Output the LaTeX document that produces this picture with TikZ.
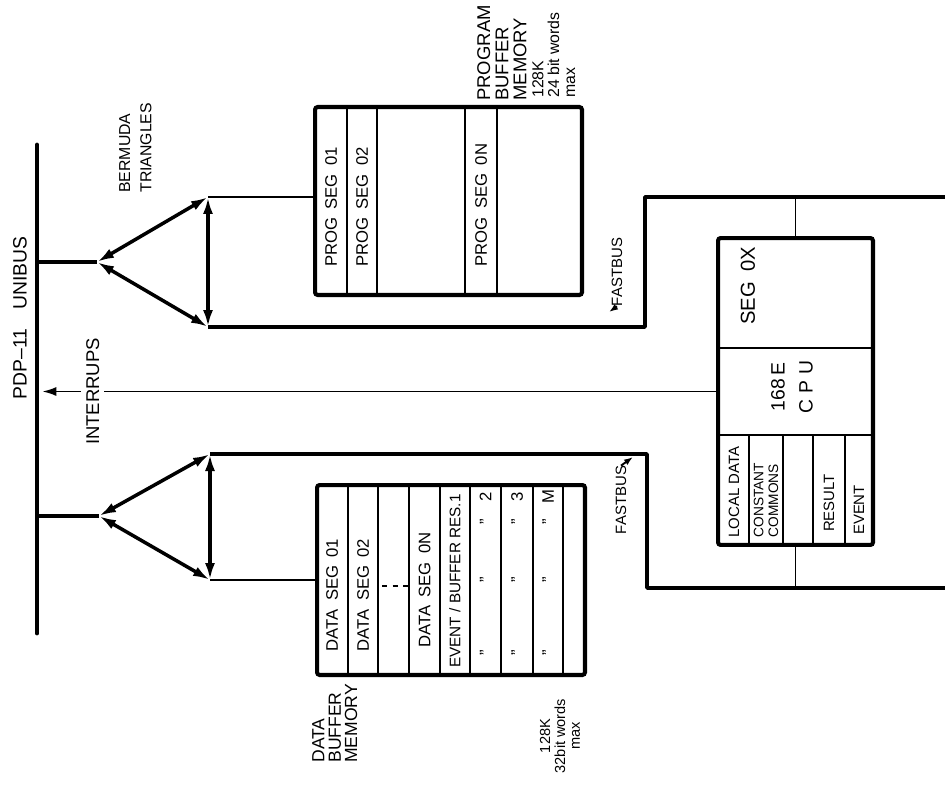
\documentclass[tikz,border=0pt]{standalone}
\usepackage{fontspec}
\setmainfont{Liberation Sans}
\usetikzlibrary{arrows.meta,calc}
\tikzset{
  bus/.style={line width=2.8pt,line cap=round},
  tri/.style={line width=2pt,{Latex[length=3.4mm,width=2mm]}-{Latex[length=3.4mm,width=2mm]}},
  fastbus/.style={line width=2pt,line join=round},
  link/.style={line width=1.1pt},
  membox/.style={draw,line width=2.3pt,rounded corners=1.5pt,inner sep=0pt},
  divider/.style={line width=1.4pt},
  vtext/.style={rotate=90,inner sep=1pt,font=\fontsize{9.5}{10}\selectfont},
  biglbl/.style={rotate=90,inner sep=1pt,font=\fontsize{10.5}{10.3}\selectfont},
  memnote/.style={rotate=90,inner sep=0pt,font=\fontsize{8.3}{8.5}\selectfont},
  cell/.style={rotate=90,inner sep=0pt,font=\fontsize{8.5}{8.5}\selectfont}
}

\begin{document}
\begin{tikzpicture}[x=0.02cm,y=-0.02cm]
\useasboundingbox (0,0) rectangle (945,787);

% unibus
\coordinate (bustop) at (37,145);
\coordinate (busbot) at (37,633);
\draw[bus] (bustop) -- (busbot);
\node[biglbl,font=\fontsize{11}{12}\selectfont] (unibus) at (20,318) {PDP--11\quad UNIBUS};

% bermuda triangles
\coordinate (tap1) at (37,262);
\coordinate (apex1) at (97,262);
\coordinate (up1) at (208,197);
\coordinate (lo1) at (208,327);
\coordinate (tap2) at (37,516);
\coordinate (apex2) at (99,516);
\coordinate (up2) at (210,454);
\coordinate (lo2) at (210,580);
\draw[fastbus] (tap1) -- (apex1);
\draw[tri] (apex1) -- (up1);
\draw[tri] (apex1) -- (lo1);
\draw[tri] (up1) -- (lo1);
\draw[fastbus] (tap2) -- (apex2);
\draw[tri] (apex2) -- (up2);
\draw[tri] (apex2) -- (lo2);
\draw[tri] (up2) -- (lo2);
\node[biglbl,anchor=north west,align=left,inner sep=0pt,font=\fontsize{9}{12}\selectfont] (bermuda) at (119,193) {BERMUDA\\TRIANGLES};

% program buffer memory
\node[membox,minimum width=5.34cm,minimum height=3.76cm] (prog) at (448.5,201) {};
\foreach \x in {347,377,465,497} \draw[divider] (\x,107) -- (\x,295);
\node[vtext] (pseg1) at (331,207) {PROG\enspace SEG\enspace 01};
\node[vtext] (pseg2) at (362,207) {PROG\enspace SEG\enspace 02};
\node[vtext] (psegn) at (481,205) {PROG\enspace SEG\enspace 0N};
\node[biglbl,anchor=north west,align=left,inner sep=0pt] (progname) at (477,101) {PROGRAM\\BUFFER\\MEMORY};
\node[memnote,anchor=north west,align=left,font=\fontsize{9}{9}\selectfont] (progsize) at (532,98) {128K\\24 bit words\\max};

% data buffer memory
\node[membox,minimum width=5.36cm,minimum height=3.8cm] (data) at (451,580) {};
\foreach \x in {348,378,409,440,470,501,533,563} \draw[divider] (\x,485) -- (\x,675);
\node[vtext] (dseg1) at (332,595) {DATA\enspace SEG\enspace 01};
\node[vtext] (dseg2) at (363,595) {DATA\enspace SEG\enspace 02};
\draw[link,dashed] (382,586) -- (408,586);
\node[vtext] (dsegn) at (424.5,590) {DATA\enspace SEG\enspace 0N};
\node[vtext,font=\fontsize{8.7}{10}\selectfont] (res1) at (455,581) {EVENT / BUFFER RES.1};
\foreach \x/\n [count=\i] in {485.5/2,517/3,548/M} {
  \foreach \y in {653,580,522} \node[vtext] (dit\i-\y) at (\x,\y) {"};
  \node[vtext] (resn\i) at (\x,497) {\n};
}
\node[biglbl,anchor=north west,align=left,inner sep=0pt,font=\fontsize{10}{9.3}\selectfont] (dataname) at (312,763) {DATA\\BUFFER\\MEMORY};
\node[memnote,align=center] (datasize) at (560,736) {128K\\32bit words\\max};

% 168E processor
\node[membox,minimum width=3.1cm,minimum height=6.14cm] (cpu) at (795.5,391.5) {};
\draw[divider] (718,348) -- (873,348);
\draw[divider] (718,435) -- (873,435);
\foreach \x in {749,783,813,845} \draw[divider] (\x,435) -- (\x,545);
\node[vtext,font=\fontsize{11.5}{13}\selectfont] (segox) at (748,286) {SEG\enspace 0X};
\node[vtext,align=center,font=\fontsize{11}{16}\selectfont] (cpuname) at (792,387) {168\,E\\C\,\,P\,\,U};
\node[cell] (locdata) at (734,492) {LOCAL DATA};
\node[cell,align=left,font=\fontsize{7.8}{8.3}\selectfont] (consts) at (766,500) {CONSTANT\\COMMONS};
\node[cell] (result) at (829,503) {RESULT};
\node[cell] (event) at (859,510) {EVENT};

% fastbus
\coordinate (fbin1) at (645,197);
\coordinate (fbout1) at (945,197);
\coordinate (fbin2) at (647,588);
\coordinate (fbout2) at (945,588);
\draw[fastbus] (lo1) -| (fbin1) -- (fbout1);
\draw[fastbus] (up2) -| (fbin2) -- (fbout2);
\draw[link] (up1) -- (up1 -| prog.west);
\draw[link] (lo2) -- (lo2 -| data.west);
\draw[link] (cpu.north) -- (cpu.north |- fbout1);
\draw[link] (cpu.south) -- (cpu.south |- fbout2);
\node[memnote,font=\fontsize{8.5}{9}\selectfont] (fbname1) at (617,272) {FASTBUS};
\node[memnote,font=\fontsize{8.5}{9}\selectfont] (fbname2) at (621,500) {FASTBUS};
\coordinate (fbptr1) at (609,312);
\coordinate (fbptr2) at (633,457);
\draw[link,-{Latex[length=1.8mm,width=1.3mm]}] (fbname1.west) -- (fbptr1);
\draw[link,-{Latex[length=1.8mm,width=1.3mm]}] (fbname2.east) -- (fbptr2);

% interrupts
\draw[link,-{Latex[length=2.8mm,width=1.8mm]},shorten >=3pt] (cpu.west) -- node[biglbl,fill=white,pos=0.918,inner sep=3pt] (intr) {INTERRUPS} (cpu.west -| bustop);

\end{tikzpicture}
\end{document}
